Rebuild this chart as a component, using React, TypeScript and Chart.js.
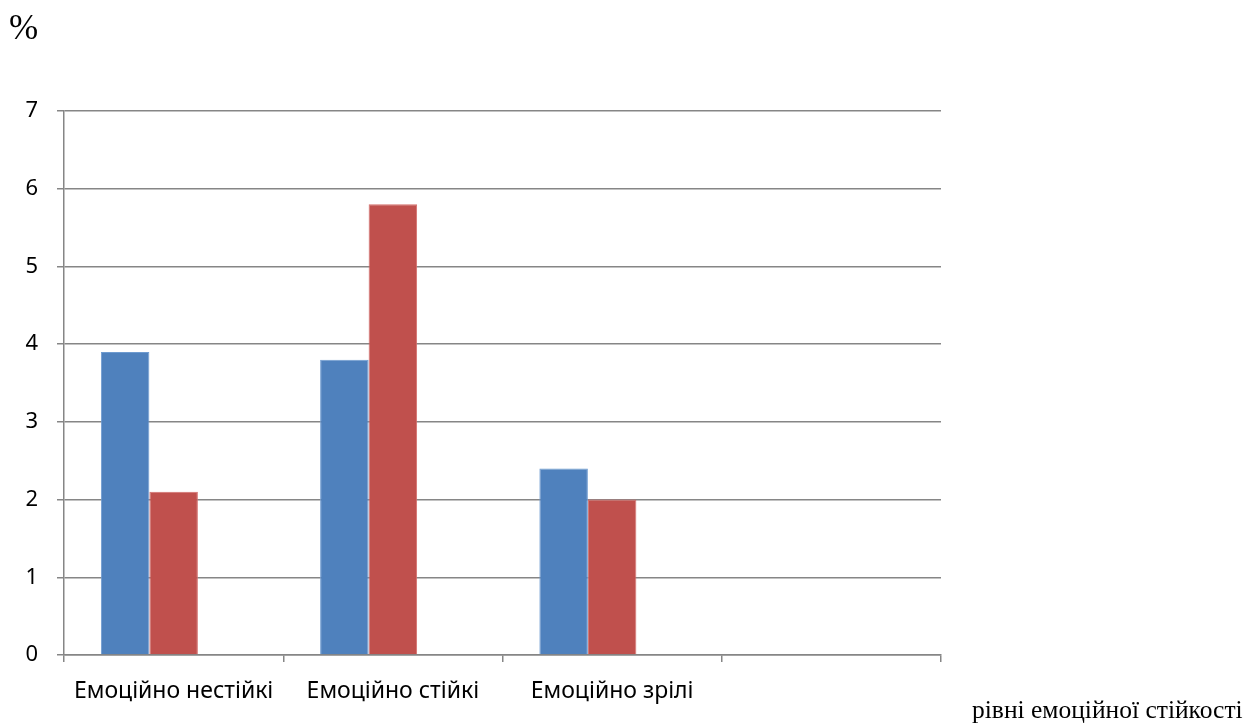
import React, { useEffect, useRef } from "react";
import { Chart, registerables } from "chart.js";

Chart.register(...registerables);

const categories = ["Емоційно нестійкі", "Емоційно стійкі", "Емоційно зрілі", ""];
const seriesBlue = [3.9, 3.8, 2.4, null];
const seriesRed = [2.1, 5.8, 2.0, null];
const seriesEmpty = [null, null, null, null];
const yTicks = [0, 1, 2, 3, 4, 5, 6, 7];
const yUnitLabel = "%";
const xAxisTitle = "рівні емоційної стійкості";

const W = 1257;
const H = 726;

export default function App() {
  const ref = useRef<HTMLCanvasElement | null>(null);

  useEffect(() => {
    if (!ref.current) return;
    const chart = new Chart(ref.current, {
      type: "bar",
      data: {
        labels: categories,
        datasets: [
          {
            label: "s1",
            data: seriesBlue,
            backgroundColor: "#4F81BD",
            borderColor: "#6E9BD0",
            borderWidth: 1,
            categoryPercentage: 0.6636,
            barPercentage: 1,
          },
          {
            label: "s2",
            data: seriesRed,
            backgroundColor: "#C0504D",
            borderColor: "#D46E6B",
            borderWidth: 1,
            categoryPercentage: 0.6636,
            barPercentage: 1,
          },
          {
            label: "s3",
            data: seriesEmpty,
            backgroundColor: "#9BBB59",
            categoryPercentage: 0.6636,
            barPercentage: 1,
          },
        ],
      },
      options: {
        animation: false,
        responsive: false,
        maintainAspectRatio: false,
        layout: { padding: { left: 0, top: 111, right: W - 941, bottom: 0 } },
        plugins: {
          legend: { display: false },
          tooltip: { enabled: false },
          title: { display: false },
        },
        scales: {
          x: {
            offset: true,
            grid: {
              offset: true,
              drawOnChartArea: false,
              drawTicks: true,
              tickLength: 7,
              color: "#868686",
              lineWidth: 1.5,
            },
            border: { display: true, color: "#868686", width: 1.5 },
            ticks: {
              color: "#000",
              font: { family: "'Noto Sans', sans-serif", size: 23 },
              padding: 16,
              maxRotation: 0,
              autoSkip: false,
            },
            afterFit: (s: any) => {
              s.height = H - 655;
            },
          },
          y: {
            min: 0,
            max: 7,
            afterBuildTicks: (s: any) => {
              s.ticks = yTicks.map((v) => ({ value: v }));
            },
            grid: {
              color: "#868686",
              lineWidth: 1.5,
              tickLength: 7,
              drawTicks: true,
            },
            border: { display: true, color: "#868686", width: 1.5 },
            ticks: {
              color: "#000",
              font: { family: "'Noto Sans', sans-serif", size: 22 },
              padding: 19,
            },
            afterFit: (s: any) => {
              s.width = 64;
            },
          },
        },
      },
    });
    return () => chart.destroy();
  }, []);

  return (
    <div style={{ position: "absolute", left: 0, top: 0, width: W, height: H, background: "#fff", overflow: "hidden" }}>
      <canvas ref={ref} width={W} height={H} style={{ position: "absolute", left: 0, top: 0, width: W, height: H }} />
      <div
        style={{
          position: "absolute",
          left: 9,
          top: 10,
          fontFamily: "'Liberation Serif', 'Times New Roman', serif",
          fontSize: 35,
          color: "#000",
          lineHeight: 1,
        }}
      >
        {yUnitLabel}
      </div>
      <div
        style={{
          position: "absolute",
          left: 972,
          top: 697,
          fontFamily: "'Liberation Serif', 'Times New Roman', serif",
          fontSize: 25.5,
          color: "#000",
          lineHeight: 1,
          whiteSpace: "nowrap",
        }}
      >
        {xAxisTitle}
      </div>
    </div>
  );
}
